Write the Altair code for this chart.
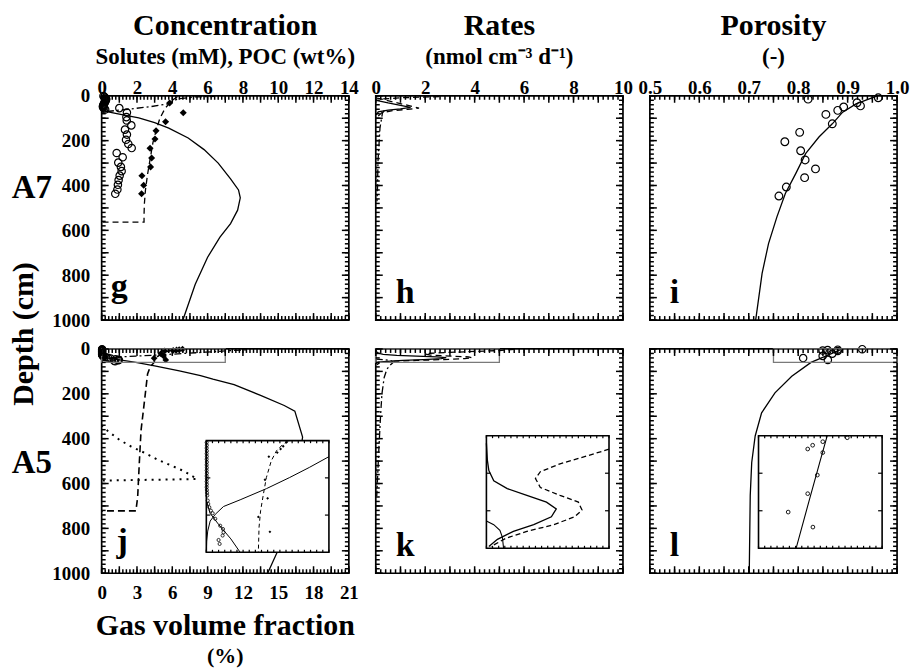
import altair as alt
import pandas as pd

FONT = "Liberation Serif"
W, H = 248, 225
DEPTH = [0, 1000]

TITLE_CONC, SUB_CONC = "Concentration", "Solutes (mM), POC (wt%)"
TITLE_RATES, SUB_RATES = "Rates", "(nmol cm\u207b\u00b3 d\u207b\u00b9)"
TITLE_POR, SUB_POR = "Porosity", "(-)"
DEPTH_LABEL = "Depth (cm)"
GAS_TITLE, GAS_SUB = "Gas volume fraction", "(%)"
ROW_TOP, ROW_BOTTOM = "A7", "A5"

conc_ticks = [0, 2, 4, 6, 8, 10, 12, 14]
rate_ticks = [0, 2, 4, 6, 8, 10]
por_ticks = [0.5, 0.6, 0.7, 0.8, 0.9, 1.0]
gas_ticks = [0, 3, 6, 9, 12, 15, 18, 21]
depth_ticks = [0, 200, 400, 600, 800, 1000]

# ---------------- A7 : concentrations (g) ----------------
g_circ_x = [0.10, 0.15, 0.20, 0.25, 0.25, 0.22, 0.20, 0.18, 0.15, 0.12, 0.10, 0.08, 0.07, 0.10, 0.15, 0.20,
            1.00, 1.43, 1.40, 1.42, 1.68, 1.32, 1.43, 1.38, 1.51, 1.70,
            0.85, 1.19, 0.94, 1.09, 1.13, 1.02, 0.96, 0.92, 0.89, 0.77]
g_circ_d = [1, 5, 9, 13, 17, 21, 25, 29, 33, 37, 41, 45, 49, 53, 57, 61,
            55, 75, 95, 110, 132, 151, 173, 196, 215, 233,
            255, 274, 298, 317, 336, 356, 376, 397, 418, 437]
g_diam_x = [3.85, 4.62, 3.62, 3.08, 3.02, 2.74, 2.83, 2.77, 2.28, 2.38, 2.26]
g_diam_d = [32, 76, 116, 156, 193, 234, 277, 317, 357, 399, 437]
g_dash_x = [4.3, 4.0, 3.6, 3.3, 3.1, 2.9, 2.75, 2.6, 2.48, 2.42, 2.4, 2.4, 0.0]
g_dash_d = [3, 20, 55, 100, 150, 210, 280, 350, 420, 480, 530, 563, 563]
g_dd_x = [0.3, 1.5, 2.8, 3.8, 4.3, 5.3, 6.4]
g_dd_d = [70, 60, 48, 36, 14, 5, 3]
g_sol_x = [0.1, 0.23, 1.0, 2.1, 3.0, 3.8, 4.9, 5.8, 6.6, 7.3, 7.75, 7.85, 7.7, 7.3, 6.7, 6.0, 5.3, 4.6]
g_sol_d = [62, 70, 82, 99, 120, 144, 188, 240, 300, 370, 420, 455, 510, 570, 630, 720, 840, 1000]

# ---------------- A7 : rates (h) ----------------
h_sol_x = [0.02, 0.5, 1.0, 1.41, 1.0, 0.5, 0.1, 0.02]
h_sol_d = [20, 32, 43, 52, 58, 64, 72, 85]
h_dash_x = [0.05, 0.6, 1.2, 1.75, 1.3, 0.7, 0.25, 0.1]
h_dash_d = [10, 25, 40, 55, 60, 66, 75, 90]
h_top_x = [0.3, 1.0, 1.8, 2.6]
h_top_d = [14, 9, 6, 4]
h_dd_x = [0.35, 0.27, 0.17, 0.13, 0.09, 0.07, 0.05]
h_dd_d = [65, 77, 144, 218, 292, 410, 470]

# ---------------- A7 : porosity (i) ----------------
i_circ_x = [0.820, 0.962, 0.919, 0.926, 0.892, 0.880, 0.856, 0.869, 0.803, 0.773, 0.805, 0.814, 0.835, 0.813, 0.776, 0.761]
i_circ_d = [15, 9, 31, 45, 50, 65, 83, 125, 163, 205, 245, 286, 326, 365, 407, 447]
i_fit_x = [0.96, 0.917, 0.890, 0.869, 0.842, 0.815, 0.795, 0.774, 0.757, 0.740, 0.727, 0.714]
i_fit_d = [0, 36, 73, 125, 184, 258, 347, 436, 540, 659, 792, 1000]

# ---------------- A5 : concentrations (j) ----------------
j_circ_x = [0.02, 0.03, 0.02, 0.03, 0.02, 0.03, 0.02, 0.03, 0.02, 0.03, 0.02, 0.03, 0.02, 0.03, 0.02, 0.03,
            0.02, 0.03, 0.04, 0.05, 0.08, 0.11, 0.17, 0.26, 0.36, 0.51, 0.79, 0.95, 0.98, 0.93, 0.70, 0.76]
j_circ_d = [1, 2.5, 4, 5.5, 7, 8.5, 10, 11.5, 13, 14.5, 16, 17.5, 19, 20.5, 22, 23.5,
            25, 26.5, 28, 29.5, 32.2, 34, 35.8, 37.6, 39, 42, 45.7, 47.5, 49.3, 51, 53.4, 55.5]
j_diam_x = [4.58, 4.39, 4.24, 4.05, 3.57, 3.35, 3.50, 2.97, 3.63]
j_diam_d = [0.9, 3.0, 4.5, 6.4, 8.6, 21, 31, 41, 49]
j_dash_x = [4.68, 4.39, 4.01, 3.71, 3.43, 3.26, 3.10, 3.01, 2.97, 2.75, 2.6, 2.45, 2.23, 2.13, 2.04, 1.94, 0.0]
j_dash_d = [0.4, 1.8, 5.4, 10.8, 19.8, 28.7, 37.6, 46.6, 60, 80, 111, 215, 363, 511, 659, 722, 722]
j_dd_x = [0.0, 0.02, 0.08, 0.22, 0.51, 0.98, 1.93, 3.43, 4.76, 5.88, 7.0, 8.2]
j_dd_d = [60, 54, 48.6, 43.2, 39.6, 35.4, 31.8, 25.8, 19.8, 14.4, 8.6, 4]
j_sol_x = [0.035, 0.21, 0.7, 1.4, 1.93, 3.0, 4.4, 5.6, 6.3, 7.5, 9.0, 10.34, 10.94, 11.38, 11.1, 10.7, 10.34, 9.4]
j_sol_d = [33, 39, 45, 52.8, 60, 75, 98, 119, 135, 159, 207, 252, 277, 393, 541, 689, 837, 1000]
gas_x = [0.0, 0.5, 1.5, 2.5, 3.6, 4.8, 6.0, 7.0, 8.1, 0.0]
gas_d = [340, 365, 405, 435, 462, 495, 522, 545, 580, 587]
j_zoom_x, j_zoom_d = [0, 7], [0, 60]

# ---------------- A5 : rates (k) ----------------
k_sol_x = [0.0, 0.04, 0.1, 0.3, 0.85, 1.65, 2.45, 2.85, 2.65, 1.93, 1.1, 0.45, 0.1, 0.0]
k_sol_d = [4, 13.2, 18.6, 24, 28.2, 31.8, 35.4, 39, 43.2, 47.4, 51, 55.2, 59.1, 66]
k_dash_x = [5.6, 5.3, 5.0, 4.1, 3.0, 2.2, 2.0, 2.2, 3.0, 3.75, 3.9, 3.6, 2.75, 1.65, 0.8, 0.18, 0.05]
k_dash_d = [2, 4, 7.2, 10.8, 15, 19.2, 22.8, 27.6, 31.8, 35.4, 39.6, 43.2, 47.4, 51, 54.6, 59.1, 70]
k_dd_x = [0.0, 0.3, 0.55, 0.65, 0.7, 0.6, 0.45, 0.34, 0.25, 0.2, 0.13, 0.07, 0.04]
k_dd_d = [45.4, 47.4, 50.4, 54, 60, 70, 90, 127, 200, 286, 434, 582, 656]
k_zoom_x, k_zoom_d = [0, 5], [0, 60]

# ---------------- A5 : porosity (l) ----------------
l_circ_x = [0.9295, 0.880, 0.8595, 0.8495, 0.880, 0.869, 0.8495, 0.810, 0.860]
l_circ_d = [1.1, 3.2, 5.1, 7.1, 9.0, 21, 30.9, 40.7, 48.7]
l_fit_x = [0.889, 0.873, 0.852, 0.826, 0.787, 0.753, 0.726, 0.713, 0.706, 0.703, 0.701]
l_fit_d = [0, 15, 35, 60, 122, 196, 285, 388, 506, 653, 1000]
l_zoom_x, l_zoom_d = [0.75, 1.0], [0, 60]


def seq(a, b, step):
    n = int(round((b - a) / step))
    return [round(a + m * step, 6) for m in range(n + 1)]


def frame(x, d):
    return pd.DataFrame({"x": x, "d": d, "i": list(range(len(x)))})


def inside(x, d, xdom, ydom):
    xs, ds = [], []
    for a, b in zip(x, d):
        if xdom[0] - 1e-9 <= a <= xdom[1] + 1e-9 and ydom[0] - 1e-9 <= b <= ydom[1] + 1e-9:
            xs.append(a)
            ds.append(b)
    return xs, ds


def sx(dom, rng=(0, W)):
    return alt.Scale(domain=list(dom), range=list(rng), nice=False, zero=False)


def sy(dom, rng=(0, H)):
    return alt.Scale(domain=list(dom), range=list(rng), nice=False, zero=False)


def enc(xdom, ydom, xr, yr, xaxis=None, yaxis=None):
    return dict(x=alt.X("x:Q", scale=sx(xdom, xr), axis=xaxis),
                y=alt.Y("d:Q", scale=sy(ydom, yr), axis=yaxis))


def line(x, d, xdom, ydom=DEPTH, dash=None, width=1.3, xr=(0, W), yr=(0, H)):
    props = dict(color="black", strokeWidth=width)
    if dash:
        props["strokeDash"] = dash
    return alt.Chart(frame(x, d)).mark_line(**props).encode(order="i:Q", **enc(xdom, ydom, xr, yr))


def pts(x, d, xdom, ydom=DEPTH, shape="circle", filled=False, size=50, width=1.2, xr=(0, W), yr=(0, H)):
    props = dict(shape=shape, filled=filled, size=size, color="black", opacity=1)
    if not filled:
        props["strokeWidth"] = width
    return alt.Chart(frame(x, d)).mark_point(**props).encode(**enc(xdom, ydom, xr, yr))


def axes(xdom, ydom, xaxis, yaxis, xr=(0, W), yr=(0, H)):
    return alt.Chart(frame([xdom[0]], [ydom[0]])).mark_point(opacity=0).encode(
        **enc(xdom, ydom, xr, yr, xaxis, yaxis))


MAJ, MIN = 7, 4
YMAJ, YMIN = seq(0, 1000, 100), seq(0, 1000, 20)


def segments(xdom, ydom, xr, yr, xmaj, xmin, ymaj, ymin, lmaj=MAJ, lmin=MIN):
    """Inward tick segments along the four edges (in data units of the panel scales)."""
    dx = (xdom[1] - xdom[0]) / (xr[1] - xr[0])
    dy = (ydom[1] - ydom[0]) / (yr[1] - yr[0])
    segs = []
    for vals, L in ((xmaj, lmaj), (xmin, lmin)):
        for v in vals:
            segs.append((v, ydom[0], v, ydom[0] + L * dy))
            segs.append((v, ydom[1], v, ydom[1] - L * dy))
    for vals, L in ((ymaj, lmaj), (ymin, lmin)):
        for v in vals:
            segs.append((xdom[0], v, xdom[0] + L * dx, v))
            segs.append((xdom[1], v, xdom[1] - L * dx, v))
    return segs


def tick_layer(segs, xdom, ydom, xr=(0, W), yr=(0, H), width=1.5):
    df = pd.DataFrame([{"x": a, "d": b, "x2": c, "d2": e} for a, b, c, e in segs])
    return alt.Chart(df).mark_rule(color="black", strokeWidth=width).encode(
        x=alt.X("x:Q", scale=sx(xdom, xr), axis=None), x2="x2:Q",
        y=alt.Y("d:Q", scale=sy(ydom, yr), axis=None), y2="d2:Q")


LBL = dict(ticks=False, domain=False, grid=False, labelFont=FONT, labelFontSize=19,
           labelFontWeight="bold", labelColor="black", labelFlush=False, labelOverlap=False, title=None)


def top_labels(values, fmt="d"):
    return alt.Axis(orient="top", values=values, labelPadding=2, labelBaseline="alphabetic", format=fmt, **LBL)


def left_labels(values):
    return alt.Axis(orient="left", values=values, labelPadding=12, labelBaseline="middle",
                    labelAlign="right", format="d", **LBL)


def bottom_labels(values):
    return alt.Axis(orient="bottom", values=values, labelPadding=25, labelBaseline="alphabetic", format="d", **LBL)


def text(t, x, y, size, angle=0, align="center"):
    props = dict(font=FONT, fontSize=size, fontWeight="bold", color="black", align=align, baseline="alphabetic")
    if angle:
        props["angle"] = angle
    return alt.Chart(pd.DataFrame({"t": [t]})).mark_text(**props).encode(
        text="t:N", x=alt.value(x), y=alt.value(y))


def zoom_box(zx, zd, xdom):
    df = pd.DataFrame({"x0": [zx[0]], "x1": [zx[1]], "d0": [zd[0]], "d1": [zd[1]]})
    return alt.Chart(df).mark_rect(fillOpacity=0, stroke="#7a7a7a", strokeWidth=1.3).encode(
        x=alt.X("x0:Q", scale=sx(xdom), axis=None), x2="x1:Q",
        y=alt.Y("d0:Q", scale=sy(DEPTH), axis=None), y2="d1:Q")


def inset_bg(zx, zd, box):
    left, top, right, bottom = box
    df = pd.DataFrame({"x0": [zx[0]], "x1": [zx[1]], "d0": [zd[0]], "d1": [zd[1]]})
    return alt.Chart(df).mark_rect(fill="white", stroke="black", strokeWidth=1.6).encode(
        x=alt.X("x0:Q", scale=sx(zx, (left, right)), axis=None), x2="x1:Q",
        y=alt.Y("d0:Q", scale=sy(zd, (top, bottom)), axis=None), y2="d1:Q")


def inset_tick_layer(zx, zd, box, xminor):
    left, top, right, bottom = box
    segs = segments(zx, zd, (left, right), (top, bottom), [], xminor, [20, 40], [], lmaj=4, lmin=2.5)
    return tick_layer(segs, zx, zd, (left, right), (top, bottom), width=1.2)


def panel(layers):
    return alt.layer(*layers).resolve_scale(x="independent", y="independent").properties(width=W, height=H)


DASH = [6, 4]
DASHDOT = [7, 3, 2, 3]
DOT = [2, 5]

CONC = [0, 14]
RATE = [0, 10]
POR = [0.5, 1.0]
GAS = [0, 21]

CONC_SEGS = segments(CONC, DEPTH, (0, W), (0, H), seq(0, 14, 1), seq(0, 14, 0.2), YMAJ, YMIN)
RATE_SEGS = segments(RATE, DEPTH, (0, W), (0, H), seq(0, 10, 1), seq(0, 10, 0.2), YMAJ, YMIN)
POR_SEGS = segments(POR, DEPTH, (0, W), (0, H), seq(0.5, 1.0, 0.05), seq(0.5, 1.0, 0.01), YMAJ, YMIN)

g = panel([
    line(g_sol_x, g_sol_d, CONC),
    line(g_dash_x, g_dash_d, CONC, dash=DASH),
    line(g_dd_x, g_dd_d, CONC, dash=DASHDOT),
    pts(g_circ_x, g_circ_d, CONC, size=55),
    pts(g_diam_x, g_diam_d, CONC, shape="diamond", filled=True, size=50),
    tick_layer(CONC_SEGS, CONC, DEPTH),
    axes(CONC, DEPTH, top_labels(conc_ticks), left_labels(depth_ticks)),
    text(TITLE_CONC, W / 2, -61, 30),
    text(SUB_CONC, W / 2, -32, 23),
    text(ROW_TOP, -70, 103, 33),
    text(DEPTH_LABEL, -69, 239, 30, angle=270),
    text("g", 9, 202, 34, align="left"),
])

h = panel([
    line(h_sol_x, h_sol_d, RATE),
    line(h_dash_x, h_dash_d, RATE, dash=DASH),
    line(h_top_x, h_top_d, RATE, dash=DASH),
    line(h_dd_x, h_dd_d, RATE, dash=DASHDOT),
    tick_layer(RATE_SEGS, RATE, DEPTH),
    axes(RATE, DEPTH, top_labels(rate_ticks), None),
    text(TITLE_RATES, W / 2, -61, 30),
    text(SUB_RATES, W / 2, -32, 23),
    text("h", 20, 208, 34, align="left"),
])

i = panel([
    line(i_fit_x, i_fit_d, POR),
    pts(i_circ_x, i_circ_d, POR, size=60),
    tick_layer(POR_SEGS, POR, DEPTH),
    axes(POR, DEPTH, top_labels(por_ticks, ".1f"), None),
    text(TITLE_POR, W / 2, -61, 30),
    text(SUB_POR, W / 2, -32, 23),
    text("i", 20, 208, 34, align="left"),
])

JB = (105, 92, 228, 204)
jxr, jyr = (JB[0], JB[2]), (JB[1], JB[3])
j = panel([
    line(j_sol_x, j_sol_d, CONC),
    line(j_dash_x, j_dash_d, CONC, dash=[7, 4], width=1.6),
    line(j_dd_x, j_dd_d, CONC, dash=DASHDOT),
    line(gas_x, gas_d, GAS, dash=DOT, width=2),
    pts(j_circ_x, j_circ_d, CONC, size=50),
    pts(j_diam_x, j_diam_d, CONC, shape="diamond", filled=True, size=45),
    zoom_box(j_zoom_x, j_zoom_d, CONC),
    inset_bg(j_zoom_x, j_zoom_d, JB),
    line(*inside(j_sol_x, j_sol_d, j_zoom_x, j_zoom_d), j_zoom_x, j_zoom_d, width=1, xr=jxr, yr=jyr),
    line(*inside(j_dd_x, j_dd_d, j_zoom_x, j_zoom_d), j_zoom_x, j_zoom_d, width=1, xr=jxr, yr=jyr),
    line(*inside(j_dash_x, j_dash_d, j_zoom_x, j_zoom_d), j_zoom_x, j_zoom_d, dash=[4, 3], width=1, xr=jxr, yr=jyr),
    pts(*inside(j_circ_x, j_circ_d, j_zoom_x, j_zoom_d), j_zoom_x, j_zoom_d, size=10, width=0.8, xr=jxr, yr=jyr),
    pts(*inside(j_diam_x, j_diam_d, j_zoom_x, j_zoom_d), j_zoom_x, j_zoom_d, shape="diamond", filled=True,
        size=8, xr=jxr, yr=jyr),
    inset_tick_layer(j_zoom_x, j_zoom_d, JB, seq(0, 7, 0.35)),
    tick_layer(CONC_SEGS, CONC, DEPTH),
    axes(CONC, DEPTH, None, left_labels(depth_ticks)),
    axes(GAS, DEPTH, bottom_labels(gas_ticks), None),
    text(ROW_BOTTOM, -70, 124, 33),
    text(GAS_TITLE, W / 2, 287, 30),
    text(GAS_SUB, W / 2, 315, 22),
    text("j", 15, 204, 34, align="left"),
])

KB = (111, 87, 234, 200)
kxr, kyr = (KB[0], KB[2]), (KB[1], KB[3])
k = panel([
    line(k_sol_x, k_sol_d, RATE),
    line(k_dash_x, k_dash_d, RATE, dash=DASH),
    line(k_dd_x, k_dd_d, RATE, dash=DASHDOT),
    zoom_box(k_zoom_x, k_zoom_d, RATE),
    inset_bg(k_zoom_x, k_zoom_d, KB),
    line(*inside(k_sol_x, k_sol_d, k_zoom_x, k_zoom_d), k_zoom_x, k_zoom_d, width=1.3, xr=kxr, yr=kyr),
    line(*inside(k_dash_x, k_dash_d, k_zoom_x, k_zoom_d), k_zoom_x, k_zoom_d, dash=[5, 3], width=1.3, xr=kxr, yr=kyr),
    line(*inside(k_dd_x, k_dd_d, k_zoom_x, k_zoom_d), k_zoom_x, k_zoom_d, width=1.1, xr=kxr, yr=kyr),
    inset_tick_layer(k_zoom_x, k_zoom_d, KB, seq(0, 5, 0.25)),
    tick_layer(RATE_SEGS, RATE, DEPTH),
    text("k", 20, 208, 34, align="left"),
])

LB = (109, 87, 233, 200)
lxr, lyr = (LB[0], LB[2]), (LB[1], LB[3])
l = panel([
    line(l_fit_x, l_fit_d, POR),
    pts(l_circ_x, l_circ_d, POR, size=55),
    zoom_box(l_zoom_x, l_zoom_d, POR),
    inset_bg(l_zoom_x, l_zoom_d, LB),
    line(*inside(l_fit_x, l_fit_d, l_zoom_x, l_zoom_d), l_zoom_x, l_zoom_d, width=1.1, xr=lxr, yr=lyr),
    pts(*inside(l_circ_x, l_circ_d, l_zoom_x, l_zoom_d), l_zoom_x, l_zoom_d, size=14, width=0.9, xr=lxr, yr=lyr),
    inset_tick_layer(l_zoom_x, l_zoom_d, LB, seq(0.75, 1.0, 0.0125)),
    tick_layer(POR_SEGS, POR, DEPTH),
    text("l", 20, 208, 34, align="left"),
])

chart = (
    alt.concat(g, h, i, j, k, l, columns=3, spacing={"row": 29, "column": 27}, bounds="flush")
    .properties(padding={"left": 8, "top": 9, "right": 7, "bottom": 3}, background="white")
    .configure_view(stroke="black", strokeWidth=1.7)
)

chart.save("out.html", embed_options={"renderer": "svg", "actions": False})
